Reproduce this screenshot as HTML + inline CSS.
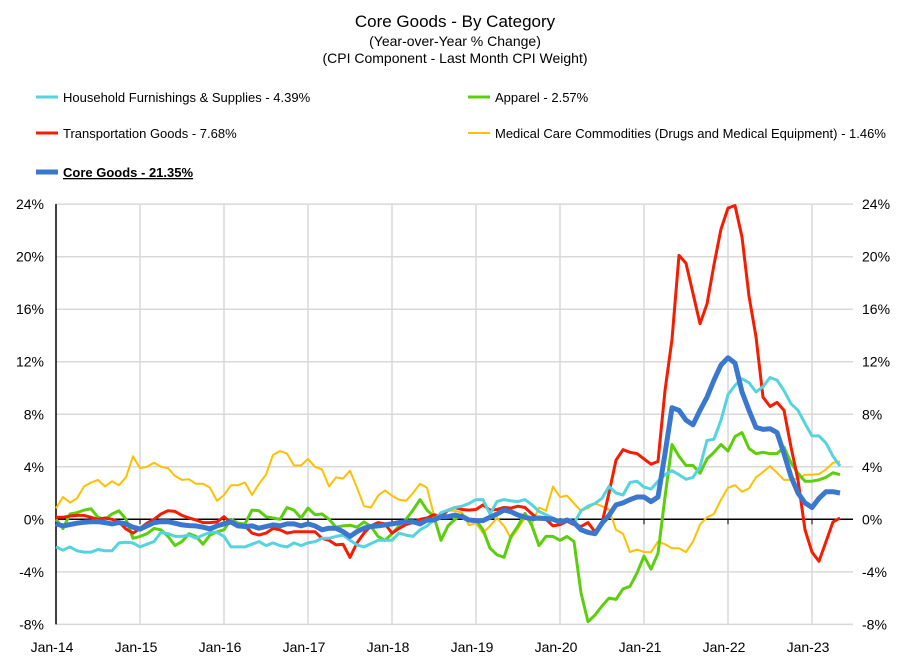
<!DOCTYPE html>
<html><head><meta charset="utf-8"><style>
body{margin:0;background:#fff;font-family:"Liberation Sans",sans-serif}
svg text{font-family:"Liberation Sans",sans-serif}
</style></head><body>
<svg id="chart" width="910" height="661" viewBox="0 0 910 661" xmlns="http://www.w3.org/2000/svg">
<text x="455" y="27" font-size="17" text-anchor="middle" fill="#000">Core Goods - By Category</text>
<text x="455" y="46" font-size="14" text-anchor="middle" fill="#000">(Year-over-Year % Change)</text>
<text x="455" y="63" font-size="14" text-anchor="middle" fill="#000">(CPI Component - Last Month CPI Weight)</text>
<g id="legend"></g>
<g id="grid"></g>
<g id="axes"></g>
<g id="series"></g>
</svg>
<script>
const yTicks=[24,20,16,12,8,4,0,-4,-8];
const xLabels=["Jan-14","Jan-15","Jan-16","Jan-17","Jan-18","Jan-19","Jan-20","Jan-21","Jan-22","Jan-23"];
const medical=[0.84,1.7,1.27,1.6,2.5,2.8,3.0,2.5,2.9,2.6,3.2,4.8,3.9,4.0,4.3,4.0,3.9,3.3,3.0,3.05,2.7,2.7,2.4,1.4,1.85,2.6,2.6,2.8,1.85,2.7,3.4,4.9,5.2,5.0,4.1,4.1,4.6,4.0,3.8,2.5,
3.2,3.1,3.7,2.4,1.0,0.9,1.8,2.2,1.8,1.5,1.4,2.0,2.7,2.4,0.3,0.25,0.65,0.65,0.5,-0.45,-0.3,-1.05,-0.5,0.1,-0.5,-1.45,-0.7,0.1,-0.3,0.9,0.65,2.5,
1.7,1.8,1.2,0.65,0.85,1.2,1.0,0.75,-0.8,-1.1,-2.5,-2.3,-2.5,-2.5,-1.7,-1.9,-2.2,-2.2,-2.5,-1.7,-0.4,0.15,0.4,1.5,2.4,2.6,2.1,2.35,3.2,3.6,4.05,3.55,3.0,3.0,3.1,3.4,3.4,3.45,3.8,4.3,4.4];
const apparel=[0,-0.7,0.4,0.5,0.7,0.8,0.15,0,0.4,0.65,0,-1.45,-1.3,-1.1,-0.7,-0.8,-1.3,-2.0,-1.7,-1.1,-1.3,-1.9,-1.2,-0.95,-0.8,0,-0.3,-0.35,0.7,0.65,0.2,0.1,0,0.9,0.7,0.1,0.85,0.35,0.4,0,
-0.6,-0.5,-0.45,-0.6,-0.2,-0.55,-1.3,-1.6,-1.1,-0.5,0,0.7,1.5,0.7,0.2,-1.6,-0.5,0,0.35,0,-0.05,-0.8,-2.2,-2.7,-2.9,-1.3,-0.5,0.45,-0.5,-2.0,-1.3,-1.3,
-1.6,-1.3,-1.7,-5.6,-7.8,-7.3,-6.6,-6.0,-6.1,-5.3,-5.1,-4.1,-2.8,-3.8,-2.6,1.7,5.7,4.8,4.1,4.1,3.5,4.6,5.1,5.7,5.2,6.3,6.6,5.4,5.0,5.1,5.0,5.0,5.5,4.3,3.5,2.9,2.9,3.0,3.2,3.55,3.4];
const transport=[0.15,0.15,0.25,0.3,0.3,0.15,0,0.1,0,-0.2,-0.75,-1.05,-0.7,-0.3,0,0.4,0.65,0.6,0.3,0.1,-0.05,-0.25,-0.25,-0.2,0.2,-0.3,-0.4,-0.5,-1.05,-1.2,-1.05,-0.7,-0.8,-1.05,-0.95,-0.95,-0.95,-0.95,-1.45,-1.6,
-1.95,-1.9,-2.9,-1.8,-1.05,-0.5,-0.25,-0.35,-1.05,-0.7,-0.4,-0.25,0,0.1,0.35,0.2,0.7,0.9,0.75,0.7,0.75,1.1,0.7,0.75,0.9,0.85,1.0,0.9,0.4,0,0,-0.5,
-0.4,-0.15,-0.4,-0.55,-0.25,-0.95,-0.3,2.0,4.5,5.3,5.1,5.0,4.6,4.2,4.4,9.8,13.7,20.1,19.5,17.2,14.9,16.4,19.4,22.1,23.7,23.9,21.5,17.0,13.9,9.3,8.6,8.9,8.3,5.5,3.0,-0.8,-2.5,-3.2,-1.7,-0.2,0.1];
const household=[-2.1,-2.35,-2.1,-2.4,-2.5,-2.5,-2.3,-2.4,-2.4,-1.8,-1.75,-1.8,-2.1,-1.9,-1.7,-1.0,-1.1,-1.3,-1.3,-1.2,-1.45,-1.2,-1.0,-1.0,-1.3,-2.1,-2.1,-2.1,-1.9,-1.7,-2.0,-1.8,-2.0,-2.1,-1.8,-2.0,-1.8,-1.7,-1.45,-1.45,
-1.3,-1.2,-1.6,-1.95,-2.1,-1.85,-1.6,-1.6,-1.6,-1.05,-1.2,-1.3,-0.8,-0.5,-0.05,0.5,0.7,0.9,1.0,1.2,1.5,1.5,0.4,1.35,1.5,1.4,1.35,1.5,1.1,0.6,0.35,0.1,
-0.2,0,-0.3,0.65,1.0,1.2,1.6,2.5,2.0,1.85,2.8,2.9,2.45,2.3,2.9,3.4,3.7,3.4,3.05,3.2,4.0,6.0,6.1,7.55,9.5,10.2,10.7,10.4,9.7,10.1,10.8,10.6,9.8,8.8,8.3,7.3,6.35,6.35,5.8,4.8,4.05];
const core=[-0.35,-0.5,-0.4,-0.3,-0.23,-0.18,-0.18,-0.25,-0.35,-0.25,-0.35,-0.6,-0.75,-0.5,-0.25,-0.18,-0.18,-0.3,-0.43,-0.48,-0.5,-0.6,-0.73,-0.5,-0.35,-0.2,-0.5,-0.55,-0.5,-0.68,-0.55,-0.43,-0.5,-0.35,-0.35,-0.5,-0.35,-0.5,-0.8,-0.68,
-0.68,-0.94,-1.3,-0.94,-0.68,-0.55,-0.5,-0.43,-0.35,-0.25,-0.18,-0.18,-0.35,-0.05,-0.05,0.2,0.2,0.33,0.2,-0.05,-0.1,-0.1,0.15,0.4,0.7,0.58,0.33,0.15,0.05,0.1,0.05,0,
-0.2,-0.05,-0.25,-0.8,-1.0,-1.1,-0.3,0.3,1.1,1.25,1.5,1.7,1.7,1.35,1.7,5.0,8.5,8.3,7.55,7.2,8.3,9.3,10.6,11.75,12.3,11.9,9.7,8.3,7.0,6.85,6.9,6.6,5.0,3.25,2.0,1.25,0.9,1.6,2.1,2.1,2.0];

const NS="http://www.w3.org/2000/svg";
const X0=56,MONTH=7,XR=853,Y0=519.3,PPP=13.13;
const xs=m=>X0+m*MONTH;
const ys=v=>Y0-v*PPP;
function mk(tag,attrs,parent){const e=document.createElementNS(NS,tag);for(const k in attrs)e.setAttribute(k,attrs[k]);parent.appendChild(e);return e;}
const grid=document.getElementById('grid'),axes=document.getElementById('axes'),series=document.getElementById('series'),legend=document.getElementById('legend');
yTicks.forEach(t=>{
  if(t!==0){const l=mk('line',{x1:X0,x2:XR,y1:ys(t),y2:ys(t),stroke:'#d9d9d9','stroke-width':1.5},grid);
  
  }
  const lab=(t<0?'-':'')+Math.abs(t)+'%';
  const a=mk('text',{x:44,y:ys(t)+5,'font-size':14,'text-anchor':'end',fill:'#000'},axes);a.textContent=lab;
  
  
  const b=mk('text',{x:862,y:ys(t)+5,'font-size':14,'text-anchor':'start',fill:'#000'},axes);b.textContent=lab;
  
  
});
xLabels.forEach((s,i)=>{
  const x=xs(i*12);
  if(i>0){const g=mk('line',{x1:x,x2:x,y1:ys(24),y2:ys(-8),stroke:'#d9d9d9','stroke-width':1.5},grid);
  
  
  const tk=mk('line',{x1:x,x2:x,y1:ys(0),y2:ys(0)+5,stroke:'#000','stroke-width':1},axes);
  
  }
  const t=mk('text',{x:x-4,y:652,'font-size':14,'text-anchor':'middle',fill:'#000'},axes);t.textContent=s;
  
  
});
const za=mk('line',{x1:X0,x2:XR,y1:ys(0),y2:ys(0),stroke:'#000','stroke-width':1.5},axes);


const ya=mk('line',{x1:X0,x2:X0,y1:ys(24),y2:ys(-8),stroke:'#000','stroke-width':1.5},axes);


const defs=[
 {d:medical,c:'#ffc000',w:2,n:'medical-care-line'},
 {d:apparel,c:'#5bcf0c',w:3,n:'apparel-line'},
 {d:transport,c:'#f51c00',w:3,n:'transportation-line'},
 {d:household,c:'#55d3df',w:3,n:'household-line'},
 {d:core,c:'#3a78cf',w:5,n:'core-goods-line'}];
defs.forEach(s=>{
  const pts=s.d.map((v,i)=>xs(i).toFixed(1)+','+ys(v).toFixed(1)).join(' ');
  const p=mk('polyline',{points:pts,fill:'none',stroke:s.c,'stroke-width':s.w,'stroke-linejoin':'round'},series);
  
  
});
const leg=[
 {t:'Household Furnishings & Supplies - 4.39%',c:'#55d3df',w:3,x:36,y:97},
 {t:'Apparel - 2.57%',c:'#5bcf0c',w:3,x:468,y:97},
 {t:'Transportation Goods - 7.68%',c:'#f51c00',w:3,x:36,y:133},
 {t:'Medical Care Commodities (Drugs and Medical Equipment) - 1.46%',c:'#ffc000',w:2,x:468,y:133},
 {t:'Core Goods - 21.35%',c:'#3a78cf',w:5,x:36,y:172,b:true}];
leg.forEach(l=>{
  const ln=mk('line',{x1:l.x,x2:l.x+22,y1:l.y,y2:l.y,stroke:l.c,'stroke-width':l.w},legend);
  
  
  const t=mk('text',{x:l.x+27,y:l.y+5,'font-size':13,fill:'#000'},legend);
  t.textContent=l.t;
  if(l.b){t.setAttribute('font-weight','bold');t.setAttribute('text-decoration','underline');}
  
  
});
</script>
</body></html>
